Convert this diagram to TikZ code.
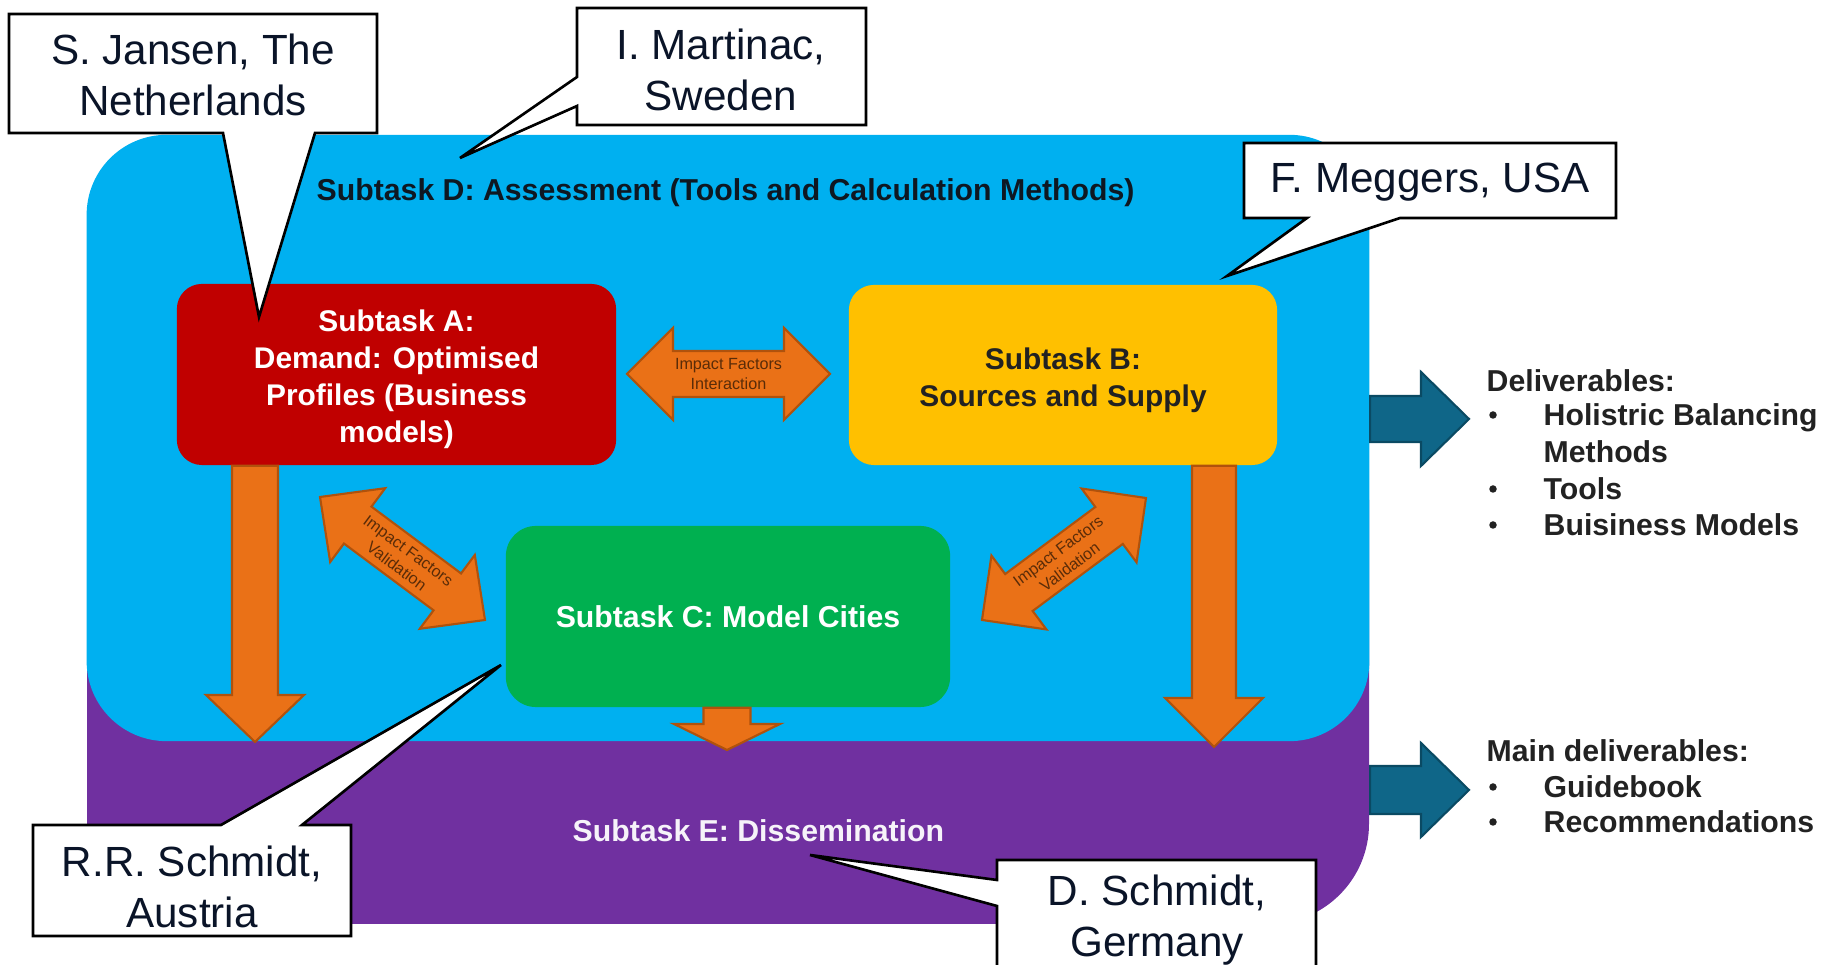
\documentclass[tikz,border=0pt]{standalone}
\usepackage{fontspec}
\setmainfont{Liberation Sans}
\usetikzlibrary{calc}

\definecolor{skyD}{HTML}{00B0F0}
\definecolor{purpleE}{HTML}{7030A0}
\definecolor{redA}{HTML}{C00000}
\definecolor{amberB}{HTML}{FFC000}
\definecolor{greenC}{HTML}{00B050}
\definecolor{orangeF}{HTML}{EA7117}
\definecolor{orangeL}{HTML}{B0520C}
\definecolor{tealF}{HTML}{0F6688}
\definecolor{tealL}{HTML}{0A4A63}
\definecolor{inkC}{HTML}{0A1428}
\definecolor{brownT}{HTML}{5A2C08}
\definecolor{grayT}{HTML}{222222}
\definecolor{titleT}{HTML}{0E1822}

% fat single arrow: style, tail, tip, half shaft, half head, head length
\newcommand\fatsingle[6]{%
  \path ($(#3)!#6!(#2)$) coordinate (#3neck);
  \filldraw[#1] ($(#2)!#4!90:(#3)$) -- ($(#3neck)!#4!90:(#3)$)
    -- ($(#3neck)!#5!90:(#3)$) -- (#3) -- ($(#3neck)!#5!-90:(#3)$)
    -- ($(#3neck)!#4!-90:(#3)$) -- ($(#2)!#4!-90:(#3)$) -- cycle;
}
% fat double arrow: style, tip one, tip two, half shaft, half head, head length
\newcommand\fatdouble[6]{%
  \path ($(#2)!#6!(#3)$) coordinate (#2neck) ($(#3)!#6!(#2)$) coordinate (#3neck);
  \filldraw[#1] (#2) -- ($(#2neck)!#5!90:(#3)$) -- ($(#2neck)!#4!90:(#3)$)
    -- ($(#3neck)!#4!90:(#3)$) -- ($(#3neck)!#5!90:(#3)$) -- (#3)
    -- ($(#3neck)!#5!-90:(#3)$) -- ($(#3neck)!#4!-90:(#3)$)
    -- ($(#2neck)!#4!-90:(#3)$) -- ($(#2neck)!#5!-90:(#3)$) -- cycle;
}

\begin{document}
\begin{tikzpicture}[x=0.01cm, y=-0.01cm,
  callout/.style={fill=white, draw=black, line width=0.75pt, line join=miter},
  callouttext/.style={text=inkC, align=center, font=\fontsize{12}{14.5}\selectfont, inner sep=0pt},
  taskbox/.style={inner sep=0pt},
  tasktext/.style={inner sep=0pt, align=center, font=\bfseries\fontsize{8.5}{10.5}\selectfont},
  orangearrow/.style={fill=orangeF, draw=orangeL, line width=0.6pt},
  tealarrow/.style={fill=tealF, draw=tealL, line width=0.6pt},
  impact/.style={text=brownT, font=\fontsize{4.6}{5.6}\selectfont, align=center, inner sep=0pt},
  title/.style={anchor=west, inner sep=0pt, font=\bfseries\fontsize{8.6}{10.5}\selectfont, text height=6.2pt, text depth=0pt},
  deliv/.style={text=grayT, anchor=west, inner sep=0pt, font=\bfseries\fontsize{8.6}{10.4}\selectfont, text height=6.3pt, text depth=0pt},
  dot/.style={fill=grayT, circle, inner sep=0pt, minimum size=0.075cm},
]
\useasboundingbox (0,0) rectangle (1823,965);
\clip (0,0) rectangle (1823,965);

% dissemination band behind the assessment frame
\fill[purpleE] (87,500) -- (1369,500) [rounded corners=1cm] -- (1369,924) -- (87,924) [sharp corners] -- cycle;
% assessment frame
\node[fill=skyD, rounded corners=0.8cm, minimum width=12.82cm, minimum height=6.06cm, inner sep=0pt] (blueD) at (728,438) {};

% subtask boxes
\node[taskbox, fill=redA, rounded corners=0.25cm, minimum width=4.39cm, minimum height=1.81cm] (boxA) at (396.5,374.5) {};
\node[taskbox, fill=amberB, rounded corners=0.25cm, minimum width=4.28cm, minimum height=1.80cm] (boxB) at (1063,375) {};
\node[taskbox, fill=greenC, rounded corners=0.3cm, minimum width=4.44cm, minimum height=1.81cm] (boxC) at (728,616.5) {};
\node[tasktext, text=white] (textA) at ($(boxA.center)+(0,5)$)
  {Subtask A:\\Demand: Optimised\\Profiles (Business\\models)};
\node[tasktext, text=grayT] (textB) at ($(boxB.center)+(0,5)$)
  {Subtask B:\\Sources and Supply};
\node[tasktext, text=white, font=\bfseries\fontsize{8.6}{10.5}\selectfont] (textC) at (boxC.center)
  {Subtask C: Model Cities};

% frame titles
\node[title, text=titleT] (titleD) at (316,190) {Subtask D: Assessment (Tools and Calculation Methods)};
\node[title, text=white!94!purpleE] (titleE) at (572,831) {Subtask E: Dissemination};

% interaction arrow between A and B
\coordinate (hxL) at (627,374);
\coordinate (hxR) at (830,374);
\fatdouble{orangearrow}{hxL}{hxR}{0.23cm}{0.46cm}{0.46cm}
\node[impact] (txtAB) at ($(hxL)!0.5!(hxR)$) {Impact Factors\\Interaction};

% validation arrows towards C
\coordinate (dlA) at (320,497);
\coordinate (dlC) at (485,620);
\fatdouble{orangearrow}{dlA}{dlC}{0.23cm}{0.46cm}{0.47cm}
\node[impact, rotate=-36.7] (txtAC) at ($(dlA)!0.5!(dlC)$) {Impact Factors\\Validation};

\coordinate (drC) at (982,620);
\coordinate (drB) at (1146,498);
\fatdouble{orangearrow}{drC}{drB}{0.23cm}{0.46cm}{0.46cm}
\node[impact, rotate=36.6] (txtBC) at ($(drC)!0.5!(drB)$) {Impact Factors\\Validation};

% flows down into dissemination
\coordinate (aTip) at (255,742);
\coordinate (aTail) at (aTip |- boxA.south);
\fatsingle{orangearrow}{aTail}{aTip}{0.23cm}{0.49cm}{0.47cm}
\coordinate (bTip) at (1214,747);
\coordinate (bTail) at (bTip |- boxB.south);
\fatsingle{orangearrow}{bTail}{bTip}{0.22cm}{0.49cm}{0.49cm}
\coordinate (cTip) at (727,750);
\coordinate (cTail) at (cTip |- boxC.south);
\fatsingle{orangearrow}{cTail}{cTip}{0.235cm}{0.53cm}{0.26cm}

% deliverable arrows
\coordinate (dTip) at (1469,419);
\coordinate (dTail) at (blueD.east |- dTip);
\fatsingle{tealarrow}{dTail}{dTip}{0.23cm}{0.47cm}{0.48cm}
\coordinate (eTip) at (1469,790);
\coordinate (eTail) at (blueD.east |- eTip);
\fatsingle{tealarrow}{eTail}{eTip}{0.24cm}{0.47cm}{0.48cm}

% deliverable lists
\node[deliv] (delHead) at (1486,380) {Deliverables:};
\foreach \n/\y/\t/\b in {1/414/Holistric Balancing/1, 2/451/Methods/0, 3/488/Tools/1, 4/524/Buisiness Models/1}{
  \node[deliv] (delItem\n) at (1543,\y) {\t};
  \ifnum\b=1 \node[dot] (delDot\n) at (1493,\y+1) {};\fi
}
\node[deliv] (mainHead) at (1486,750) {Main deliverables:};
\foreach \n/\y/\t in {1/786/Guidebook, 2/821/Recommendations}{
  \node[deliv] (mainItem\n) at (1543,\y) {\t};
  \node[dot] (mainDot\n) at (1493,\y+1) {};
}

% name callouts
\coordinate (jansenTip) at (259,317);
\draw[callout] (9,14) -- (377,14) -- (377,133) -- (315,133) -- (jansenTip) -- (223,133) -- (9,133) -- cycle;
\node[callouttext] (jansen) at (193,75) {S. Jansen, The\\Netherlands};

\coordinate (martinacTip) at (460,158);
\draw[callout] (577,8) -- (866,8) -- (866,125) -- (577,125) -- (577,106) -- (martinacTip) -- (577,77) -- cycle;
\node[callouttext] (martinac) at (721,70) {I. Martinac,\\Sweden};

\coordinate (meggersTip) at (1227,276);
\draw[callout] (1244,143) -- (1616,143) -- (1616,218) -- (1400,218) -- (meggersTip) -- (1307,218) -- (1244,218) -- cycle;
\node[callouttext] (meggers) at (1430,182) {F. Meggers, USA};

\coordinate (rrTip) at (501,665);
\draw[callout] (33,825) -- (221,825) -- (rrTip) -- (302,825) -- (351,825) -- (351,936) -- (33,936) -- cycle;
\node[callouttext] (rrschmidt) at (192,887) {R.R. Schmidt,\\Austria};

\coordinate (dsTip) at (810,855);
\draw[callout] (997,860) -- (1316,860) -- (1316,995) -- (997,995) -- (997,906) -- (dsTip) -- (997,880) -- cycle;
\node[callouttext] (dschmidt) at (1157,920) {D. Schmidt,\\Germany};
\end{tikzpicture}
\end{document}
